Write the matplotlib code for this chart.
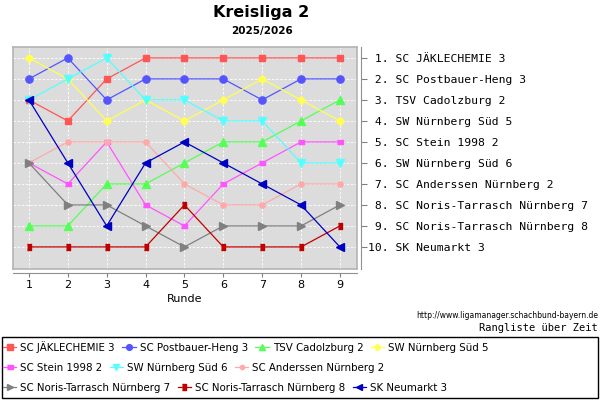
import matplotlib
matplotlib.use("Agg")
import matplotlib.pyplot as plt
from matplotlib.patches import Rectangle

# rank per round (1 = top)
rounds = [1, 2, 3, 4, 5, 6, 7, 8, 9]

jaeklechemie_3 = [3, 4, 2, 1, 1, 1, 1, 1, 1]
postbauer_heng_3 = [2, 1, 3, 2, 2, 2, 3, 2, 2]
cadolzburg_2 = [9, 9, 7, 7, 6, 5, 5, 4, 3]
nbg_sued_5 = [1, 2, 4, 3, 4, 3, 2, 3, 4]
stein_1998_2 = [6, 7, 5, 8, 9, 7, 6, 5, 5]
nbg_sued_6 = [3, 2, 1, 3, 3, 4, 4, 6, 6]
anderssen_2 = [6, 5, 5, 5, 7, 8, 8, 7, 7]
noris_tarrasch_7 = [6, 8, 8, 9, 10, 9, 9, 9, 8]
noris_tarrasch_8 = [10, 10, 10, 10, 8, 10, 10, 10, 9]
neumarkt_3 = [3, 6, 9, 6, 5, 6, 7, 8, 10]

team_names = [
    "SC JÄKLECHEMIE 3", "SC Postbauer-Heng 3", "TSV Cadolzburg 2", "SW Nürnberg Süd 5",
    "SC Stein 1998 2", "SW Nürnberg Süd 6", "SC Anderssen Nürnberg 2",
    "SC Noris-Tarrasch Nürnberg 7", "SC Noris-Tarrasch Nürnberg 8", "SK Neumarkt 3",
]
final_table = [
    "SC JÄKLECHEMIE 3", "SC Postbauer-Heng 3", "TSV Cadolzburg 2", "SW Nürnberg Süd 5",
    "SC Stein 1998 2", "SW Nürnberg Süd 6", "SC Anderssen Nürnberg 2",
    "SC Noris-Tarrasch Nürnberg 7", "SC Noris-Tarrasch Nürnberg 8", "SK Neumarkt 3",
]

series = [jaeklechemie_3, postbauer_heng_3, cadolzburg_2, nbg_sued_5, stein_1998_2,
          nbg_sued_6, anderssen_2, noris_tarrasch_7, noris_tarrasch_8, neumarkt_3]

wide_rect = [(-1.5, -1), (1.5, -1), (1.5, 1), (-1.5, 1)]
tall_rect = [(-1, -1.6), (1, -1.6), (1, 1.6), (-1, 1.6)]
styles = [
    ("#ff5555", "s", 5),
    ("#5555ff", "o", 5.2),
    ("#55ff55", "^", 5.5),
    ("#ffff55", "D", 4.2),
    ("#ff55ff", wide_rect, 4.6),
    ("#55ffff", "v", 5.5),
    ("#ffaaaa", "o", 3.8),
    ("#808080", ">", 5.5),
    ("#c00000", tall_rect, 5),
    ("#0000c0", "<", 5.5),
]

fig = plt.figure(figsize=(6, 4), dpi=100)
ax = fig.add_axes([13 / 600, 131 / 400, 344 / 600, 222 / 400])
ax.set_facecolor("#dcdcdc")
for s in ax.spines.values():
    s.set_color("#b4b4b4")
    s.set_linewidth(1.2)

handles = []
for name, ranks, (color, marker, ms) in zip(team_names, series, styles):
    h, = ax.plot(rounds, ranks, color=color, marker=marker, markersize=ms,
                 linewidth=0.9, label=name)
    handles.append(h)

ax.set_xlim(0.59, 9.44)
ax.set_ylim(11.05, 0.48)
ax.set_xticks(rounds)
ax.set_yticks(range(1, 11))
ax.tick_params(length=0, labelbottom=False, labelleft=False)
ax.grid(True, color="white", linestyle=(0, (3, 2)), linewidth=0.6)
ax.set_axisbelow(True)

sx = ax.secondary_xaxis(-0.018)
sx.set_xticks(rounds)
sx.tick_params(length=3, labelsize=8, color="#808080", pad=2)
sx.spines["bottom"].set_color("#909090")
sx.set_xlabel("Runde", fontsize=8, labelpad=3)

sy = ax.secondary_yaxis(1.012)
sy.set_yticks(range(1, 11), labels=[f"{i:2d}. {n}" for i, n in enumerate(final_table, 1)])
sy.tick_params(length=4, color="#808080", pad=1)
sy.spines["right"].set_color("#909090")
for lbl in sy.get_yticklabels():
    lbl.set_fontfamily("DejaVu Sans Mono")
    lbl.set_fontsize(8.2)

fig.text(0.435, 0.97, "Kreisliga 2", fontsize=11.5, fontweight="bold", ha="center", va="center")
fig.text(0.437, 0.922, "2025/2026", fontsize=7.5, fontweight="bold", ha="center", va="center")

fig.text(598 / 600, 1 - 316 / 400, "http://www.ligamanager.schachbund-bayern.de",
         fontsize=5.5, ha="right", va="center")
fig.text(598 / 600, 1 - 328 / 400, "Rangliste über Zeit", fontsize=7.5,
         family="DejaVu Sans Mono", ha="right", va="center")

fig.patches.append(Rectangle((2 / 600, 2 / 400), 596 / 600, 61 / 400,
                             transform=fig.transFigure, fill=False, ec="black", lw=1))
rows = [(0, 4, 347), (4, 7, 368), (7, 10, 388)]
for a, b, ypix in rows:
    fig.legend(handles[a:b], team_names[a:b], loc="center left",
               bbox_to_anchor=(3 / 600, 1 - ypix / 400), ncol=b - a, frameon=False,
               fontsize=7.4, handlelength=1.3, handletextpad=0.4, columnspacing=0.7,
               borderpad=0, borderaxespad=0, markerscale=0.8)

fig.savefig("out.png", dpi=100)
